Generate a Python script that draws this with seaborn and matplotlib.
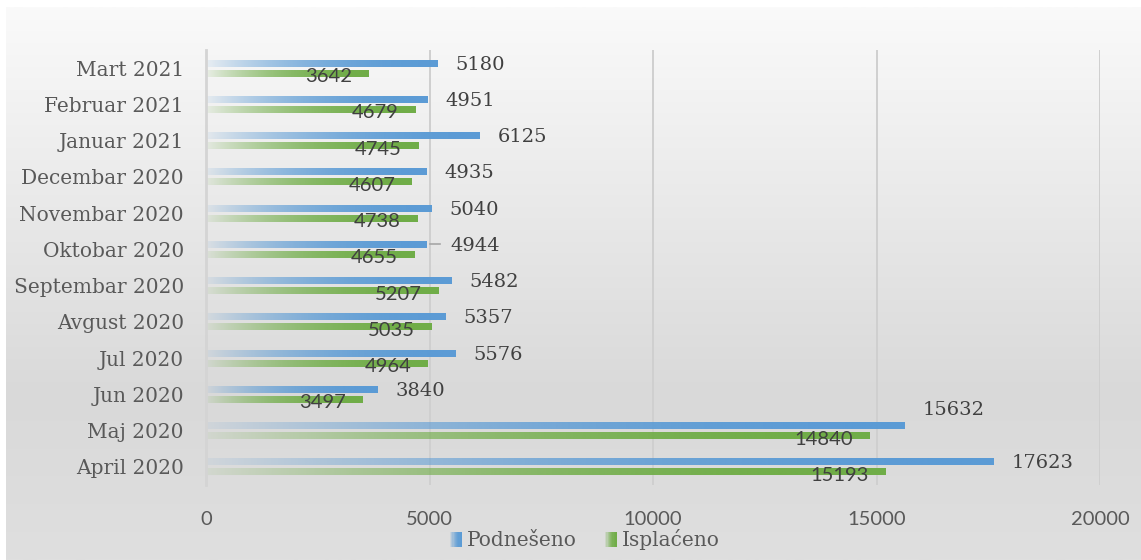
import numpy as np
import pandas as pd
import matplotlib
matplotlib.use("Agg")
import matplotlib.pyplot as plt
import matplotlib.colors as mcolors
from matplotlib.patches import Patch, Rectangle
from matplotlib.legend_handler import HandlerBase
import seaborn as sns

# data, chronological
months = ["April 2020", "Maj 2020", "Jun 2020", "Jul 2020", "Avgust 2020",
          "Septembar 2020", "Oktobar 2020", "Novembar 2020", "Decembar 2020",
          "Januar 2021", "Februar 2021", "Mart 2021"]
podneseno = [17623, 15632, 3840, 5576, 5357, 5482, 4944, 5040, 4935, 6125, 4951, 5180]
isplaceno = [15193, 14840, 3497, 4964, 5035, 5207, 4655, 4738, 4607, 4745, 4679, 3642]
series = ["Podnešeno", "Isplaćeno"]
xticks = [0, 5000, 10000, 15000, 20000]

BLUE = "#5b9bd5"
GREEN = "#70ad47"
TXT = "#595959"
LBL = "#404040"
SERIF = "DejaVu Serif"
SANS = "Lato"

df = pd.DataFrame({
    "Mjesec": months * 2,
    "Broj": podneseno + isplaceno,
    "Tip": [series[0]] * len(months) + [series[1]] * len(months),
})

fig = plt.figure(figsize=(11.41, 5.6), dpi=100)

# background gradient of the chart area
bg = fig.add_axes([6 / 1141, 0, 1 - 6 / 1141, 553 / 560], zorder=-5)
stops = mcolors.LinearSegmentedColormap.from_list(
    "bg", [(0, "#fafafa"), (0.7, "#d9d9d9"), (1.0, "#dfdfdf")])
bg.imshow(np.linspace(0, 1, 256)[:, None], aspect="auto", cmap=stops,
          extent=(0, 1, 0, 1), origin="upper")
bg.axis("off")

ax = fig.add_axes([206 / 1141, 75 / 560, 894 / 1141, 435 / 560])
ax.set_facecolor("none")

sns.barplot(data=df, y="Mjesec", x="Broj", hue="Tip", order=months[::-1],
            hue_order=series, palette=[BLUE, GREEN], orient="h",
            width=0.55, gap=0.3, legend=False, ax=ax)


def gradient(color, n=256):
    rgba = np.zeros((1, n, 4))
    rgba[..., :3] = mcolors.to_rgb(color)
    t = np.linspace(0, 1, n)
    rgba[0, :, 3] = 0.08 + 0.92 * (1 - (1 - t) ** 2.2)
    return rgba


nudges = {("Maj 2020", 0): (0, 12), ("Oktobar 2020", 0): (4, 0)}
for si, (cont, color) in enumerate(zip(ax.containers, [BLUE, GREEN])):
    for bar in cont:
        x, y, w, h = bar.get_x(), bar.get_y(), bar.get_width(), bar.get_height()
        bar.set_visible(False)
        ax.imshow(gradient(color), extent=(x, x + w, y + h, y), aspect="auto",
                  interpolation="bilinear", zorder=2)
        cat = months[::-1][int(round(y + h / 2))]
        yc = y + h / 2
        if si == 0:
            dx, dy = nudges.get((cat, si), (0, 0))
            ax.annotate(f"{int(w)}", (x + w, yc), xytext=(13 + dx, -1 + dy),
                        textcoords="offset points", ha="left", va="center",
                        fontsize=14, family=SERIF, color=LBL, zorder=5)
            if dx:
                ax.plot([x + w + 60, x + w + 300], [yc, yc], color="#a6a6a6",
                        lw=1.2, zorder=3)
        else:
            ax.annotate(f"{int(w)}", (x + w, yc), xytext=(-12, -2.5),
                        textcoords="offset points", ha="right", va="center",
                        fontsize=14.5, family=SANS, color=LBL, zorder=5)

ax.set_xlim(0, 20000)
ax.set_ylim(len(months) - 0.5, -0.5)
ax.set_xticks(xticks)
ax.set_xticklabels([str(v) for v in xticks], family=SANS, fontsize=14.5, color=TXT)
ax.tick_params(axis="x", length=0, pad=19)
ax.tick_params(axis="y", length=0, pad=16, labelsize=14.5, labelcolor=TXT)
for lab in ax.get_yticklabels():
    lab.set_family(SERIF)
ax.set_xlabel("")
ax.set_ylabel("")
ax.grid(axis="x", color="#cfcfcf", lw=1.4, zorder=0)
ax.set_axisbelow(True)
for side in ["top", "right", "bottom"]:
    ax.spines[side].set_visible(False)
ax.spines["left"].set_color("#d4d4d4")
ax.spines["left"].set_linewidth(2)


class GradHandler(HandlerBase):
    def create_artists(self, legend, orig_handle, xdescent, ydescent,
                       width, height, fontsize, trans):
        color = orig_handle.get_facecolor()
        n = 10
        arts = []
        for i in range(n):
            a = 0.15 + 0.85 * (1 - (1 - i / (n - 1)) ** 2)
            r = Rectangle((-xdescent + i * width / n, -ydescent), width / n, height,
                          facecolor=color[:3], alpha=a, lw=0, transform=trans)
            arts.append(r)
        return arts


handles = [Patch(facecolor=BLUE), Patch(facecolor=GREEN)]
fig.legend(handles, series, loc="center", bbox_to_anchor=(585 / 1141, 1 - 540 / 560),
           ncol=2, frameon=False, handler_map={Patch: GradHandler()},
           handlelength=0.6, handleheight=0.75, handletextpad=0.25,
           columnspacing=1.4, prop={"family": SERIF, "size": 14.5},
           labelcolor=TXT)

fig.savefig("out.png", dpi=100)
